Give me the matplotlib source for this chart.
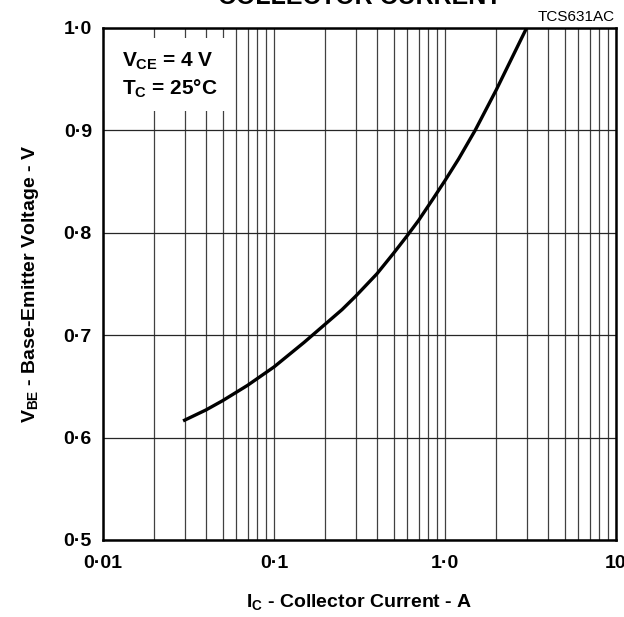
import matplotlib
matplotlib.use('Agg')
import matplotlib.pyplot as plt
from matplotlib.patches import Rectangle

plt.rcParams['font.family'] = ['Liberation Sans', 'DejaVu Sans']
plt.rcParams['mathtext.fontset'] = 'custom'
plt.rcParams['mathtext.rm'] = 'Liberation Sans:bold'
plt.rcParams['mathtext.it'] = 'Liberation Sans:bold'
plt.rcParams['mathtext.bf'] = 'Liberation Sans:bold'

# curve
ic = [0.03, 0.04, 0.05, 0.07, 0.1, 0.15, 0.2, 0.25, 0.3, 0.4, 0.5, 0.6, 0.7,
      0.85, 1.0, 1.2, 1.5, 2.0, 2.4, 3.0]
vbe = [0.617, 0.627, 0.636, 0.651, 0.669, 0.693, 0.711, 0.725, 0.738, 0.760, 0.780,
       0.797, 0.812, 0.833, 0.851, 0.872, 0.900, 0.940, 0.967, 1.0]

xticks = [0.01, 0.1, 1.0, 10]
xlabels = ['0\u00b701', '0\u00b71', '1\u00b70', '10']
yticks = [0.5, 0.6, 0.7, 0.8, 0.9, 1.0]
ylabels = ['0\u00b75', '0\u00b76', '0\u00b77', '0\u00b78', '0\u00b79', '1\u00b70']

fig = plt.figure(figsize=(6.24, 6.17), dpi=100)
ax = fig.add_axes([103/624, 77/617, 513/624, 512/617])

ax.set_xscale('log')
ax.set_xlim(0.01, 10)
ax.set_ylim(0.5, 1.0)

ax.grid(which='both', axis='x', color='0.25', linewidth=0.9)
ax.grid(which='major', axis='y', color='0.15', linewidth=0.9)
ax.set_axisbelow(True)

ax.plot(ic, vbe, color='black', linewidth=2.4, solid_joinstyle='round', zorder=3)

ax.set_xticks(xticks)
ax.set_xticklabels(xlabels, fontsize=14, fontweight='bold')
ax.set_yticks(yticks)
ax.set_yticklabels(ylabels, fontsize=14, fontweight='bold')
ax.tick_params(which='both', length=0)
ax.tick_params(axis='x', pad=11)
ax.tick_params(axis='y', pad=8)

for s in ax.spines.values():
    s.set_linewidth(1.8)
    s.set_zorder(4)

# condition box
ax.add_patch(Rectangle((0.002, 0.838), 0.243, 0.142, transform=ax.transAxes,
                       facecolor='white', edgecolor='none', zorder=2))
ax.text(0.0365, 0.924, r'$V_{CE}$ = 4 V', transform=ax.transAxes, fontsize=15,
        fontweight='bold', va='baseline', zorder=5)
ax.text(0.0365, 0.869, '$T_{C}$ = 25\u00b0C', transform=ax.transAxes,
        fontsize=15, fontweight='bold', va='baseline', zorder=5)

ax.set_xlabel(r'$I_{C}$ - Collector Current - A', fontsize=14, fontweight='bold', labelpad=14)
ax.set_ylabel(r'$V_{BE}$ - Base-Emitter Voltage - V', fontsize=14, fontweight='bold', labelpad=16)

fig.text(359.5/624, 1 - 4/617, 'COLLECTOR CURRENT', ha='center', va='baseline',
         fontsize=18, fontweight='bold')
fig.text(615/624, 1 - 21/617, 'TCS631AC', ha='right', va='baseline', fontsize=11)

fig.savefig('out.png', dpi=100)
